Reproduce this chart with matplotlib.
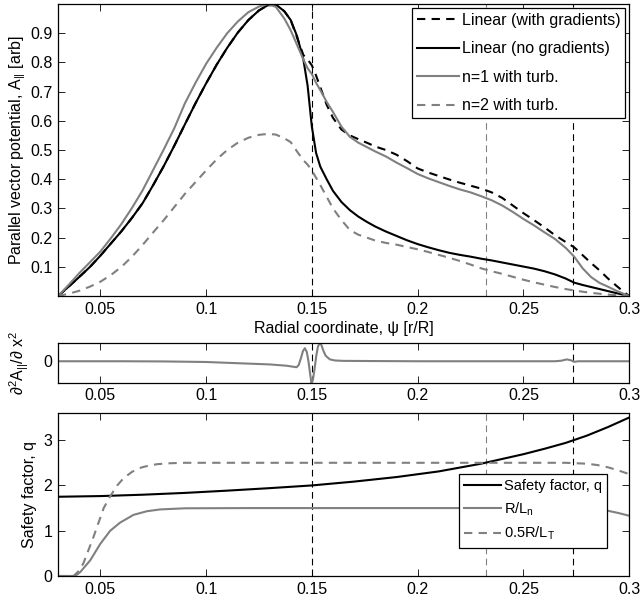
import matplotlib
matplotlib.use("Agg")
import matplotlib.pyplot as plt

plt.rcParams['font.family'] = ['Liberation Sans', 'DejaVu Sans']
plt.rcParams['font.size'] = 11.5
plt.rcParams['mathtext.fontset'] = 'custom'
plt.rcParams['mathtext.rm'] = 'Liberation Sans'
plt.rcParams['mathtext.it'] = 'Liberation Sans:italic'
plt.rcParams['mathtext.default'] = 'regular'

# ---------------- data ----------------
x_top = [0.030, 0.035, 0.040, 0.045, 0.050, 0.055, 0.060, 0.065, 0.070, 0.075,
         0.080, 0.085, 0.090, 0.095, 0.100, 0.105, 0.110, 0.115, 0.120, 0.125,
         0.129, 0.133, 0.137, 0.140, 0.143, 0.146, 0.148, 0.150, 0.152, 0.154,
         0.157, 0.160, 0.164, 0.168, 0.172, 0.176, 0.180, 0.185, 0.190, 0.195,
         0.200, 0.205, 0.210, 0.215, 0.220, 0.225, 0.230, 0.235, 0.240, 0.245,
         0.250, 0.255, 0.260, 0.265, 0.270, 0.274, 0.278, 0.282, 0.286, 0.290,
         0.294, 0.297, 0.300]

lin_grad = [0.000, 0.032, 0.065, 0.099, 0.138, 0.180, 0.222, 0.268, 0.318, 0.380,
            0.445, 0.515, 0.588, 0.660, 0.728, 0.792, 0.850, 0.902, 0.945, 0.978,
            0.995, 0.998, 0.975, 0.945, 0.885, 0.825, 0.810, 0.790, 0.755, 0.715,
            0.655, 0.610, 0.570, 0.550, 0.537, 0.525, 0.512, 0.500, 0.484, 0.462,
            0.437, 0.423, 0.411, 0.399, 0.388, 0.378, 0.368, 0.355, 0.336, 0.310,
            0.284, 0.260, 0.235, 0.208, 0.185, 0.167, 0.140, 0.113, 0.088, 0.060,
            0.035, 0.017, 0.000]

lin_nograd = [0.000, 0.032, 0.065, 0.099, 0.138, 0.180, 0.222, 0.268, 0.318, 0.380,
              0.445, 0.515, 0.588, 0.660, 0.728, 0.792, 0.850, 0.902, 0.945, 0.978,
              0.995, 0.998, 0.975, 0.945, 0.890, 0.810, 0.720, 0.580, 0.490, 0.443,
              0.400, 0.360, 0.322, 0.294, 0.272, 0.254, 0.238, 0.221, 0.206, 0.191,
              0.178, 0.167, 0.157, 0.148, 0.141, 0.135, 0.128, 0.122, 0.115, 0.108,
              0.101, 0.094, 0.085, 0.074, 0.060, 0.046, 0.038, 0.031, 0.024, 0.017,
              0.010, 0.005, 0.000]

n1_turb = [0.000, 0.038, 0.078, 0.115, 0.152, 0.198, 0.247, 0.302, 0.362, 0.432,
           0.502, 0.575, 0.660, 0.730, 0.795, 0.850, 0.900, 0.940, 0.972, 0.991,
           1.000, 0.990, 0.950, 0.910, 0.860, 0.810, 0.780, 0.760, 0.730, 0.705,
           0.665, 0.630, 0.580, 0.545, 0.525, 0.510, 0.495, 0.478, 0.457, 0.438,
           0.418, 0.403, 0.390, 0.377, 0.365, 0.355, 0.342, 0.328, 0.310, 0.288,
           0.264, 0.242, 0.218, 0.195, 0.165, 0.135, 0.095, 0.065, 0.045, 0.032,
           0.018, 0.009, 0.000]

n2_turb = [0.000, 0.008, 0.018, 0.032, 0.049, 0.072, 0.100, 0.135, 0.175, 0.218,
           0.260, 0.305, 0.350, 0.390, 0.430, 0.468, 0.500, 0.525, 0.542, 0.552,
           0.555, 0.553, 0.540, 0.527, 0.495, 0.465, 0.450, 0.430, 0.405, 0.380,
           0.340, 0.300, 0.260, 0.226, 0.210, 0.200, 0.190, 0.182, 0.176, 0.168,
           0.160, 0.151, 0.141, 0.131, 0.120, 0.108, 0.095, 0.085, 0.076, 0.066,
           0.056, 0.047, 0.039, 0.031, 0.024, 0.019, 0.015, 0.011, 0.008, 0.005,
           0.003, 0.001, 0.000]

x_d2 = [0.030, 0.060, 0.080, 0.100, 0.116, 0.130, 0.138, 0.1415, 0.1428, 0.1438,
        0.1448, 0.1458, 0.1467, 0.1476, 0.1484, 0.1491, 0.1498, 0.1505, 0.1513,
        0.1521, 0.1529, 0.1538, 0.1546, 0.1555, 0.1565, 0.1585, 0.161, 0.165,
        0.180, 0.200, 0.265, 0.268, 0.2705, 0.2725, 0.274, 0.276, 0.300]
d2A = [0.00, 0.00, -0.01, -0.04, -0.11, -0.17, -0.24, -0.30, -0.32, -0.20,
       0.15, 0.55, 0.70, 0.50, 0.00, -0.60, -1.18, -1.00, -0.40,
       0.30, 0.80, 0.97, 0.85, 0.55, 0.30, 0.10, 0.04, 0.02,
       0.01, 0.00, 0.00, 0.03, 0.10, 0.05, -0.03, 0.00, 0.00]

x_q = [0.03, 0.05, 0.07, 0.09, 0.11, 0.13, 0.15, 0.17, 0.19, 0.21, 0.23, 0.25,
       0.26, 0.27, 0.28, 0.29, 0.30]
q = [1.75, 1.765, 1.795, 1.835, 1.885, 1.94, 2.00, 2.085, 2.185, 2.31, 2.48,
     2.69, 2.81, 2.94, 3.10, 3.29, 3.50]

x_rln = [0.030, 0.0374, 0.039, 0.0406, 0.0453, 0.050, 0.0547, 0.0594, 0.0657,
         0.072, 0.0783, 0.090, 0.120, 0.200, 0.270, 0.280, 0.285, 0.290, 0.295,
         0.300]
rln = [0.00, 0.00, 0.03, 0.09, 0.35, 0.71, 1.00, 1.18, 1.35, 1.43, 1.47, 1.495,
       1.50, 1.50, 1.50, 1.49, 1.47, 1.44, 1.39, 1.33]

x_rlt = [0.030, 0.0374, 0.040, 0.042, 0.0467, 0.0516, 0.0548, 0.058, 0.061,
         0.065, 0.069, 0.073, 0.077, 0.083, 0.090, 0.120, 0.200, 0.270, 0.280,
         0.285, 0.290, 0.295, 0.300]
rlt = [0.00, 0.00, 0.12, 0.28, 0.85, 1.50, 1.77, 2.00, 2.16, 2.30, 2.39, 2.44,
       2.47, 2.49, 2.50, 2.50, 2.50, 2.50, 2.48, 2.45, 2.40, 2.33, 2.25]

vline_black = [0.15, 0.2736]
vline_gray = [0.2325]

x_ticks = [0.05, 0.1, 0.15, 0.2, 0.25, 0.3]
x_ticklabels = ['0.05', '0.1', '0.15', '0.2', '0.25', '0.3']
top_yticks = [0.1, 0.2, 0.3, 0.4, 0.5, 0.6, 0.7, 0.8, 0.9]
bot_yticks = [0, 1, 2, 3]

# ---------------- figure ----------------
GRAY = '#808080'
fig = plt.figure(figsize=(6.4, 6.03), dpi=100)
L, W = 0.0906, 0.8925
ax1 = fig.add_axes([L, 0.509, W, 0.4844])
ax2 = fig.add_axes([L, 0.3654, W, 0.0664])
ax3 = fig.add_axes([L, 0.0448, W, 0.2703])

def style(ax):
    ax.set_xlim(0.03, 0.3)
    ax.set_xticks(x_ticks)
    ax.set_xticklabels(x_ticklabels)
    ax.tick_params(direction='in', length=5, width=0.6, top=True, right=True,
                   labelsize=11.5, pad=4)
    for s in ax.spines.values():
        s.set_linewidth(0.9)

def vlines(ax, gray=True):
    for xv in vline_black:
        ax.axvline(xv, color='black', lw=0.8, dashes=(6, 4), zorder=1)
    if gray:
        for xv in vline_gray:
            ax.axvline(xv, color=GRAY, lw=0.8, dashes=(6, 4), zorder=1)

# top panel
style(ax1)
vlines(ax1)
h1, = ax1.plot(x_top, lin_grad, color='black', lw=1.5, dashes=(4, 3), label='Linear (with gradients)')
h2, = ax1.plot(x_top, lin_nograd, color='black', lw=1.5, label='Linear (no gradients)')
h3, = ax1.plot(x_top, n1_turb, color=GRAY, lw=1.5, label='n=1 with turb.')
h4, = ax1.plot(x_top, n2_turb, color=GRAY, lw=1.5, dashes=(4, 3), label='n=2 with turb.')
ax1.set_ylim(0, 1.0)
ax1.set_yticks(top_yticks)
ax1.set_yticklabels([f'{v:g}' for v in top_yticks])
ax1.set_xlabel('Radial coordinate, ψ [r/R]', fontsize=11.5, labelpad=3)
ax1.set_ylabel('Parallel vector potential, A$_{||}$ [arb]', fontsize=11.5)
ax1.yaxis.set_label_coords(-0.052, 0.5)
leg1 = ax1.legend(handles=[h1, h2, h3, h4], loc='upper right', fontsize=11.5,
                  frameon=True, fancybox=False, edgecolor='black', framealpha=1,
                  handlelength=2.6, handletextpad=0.2, labelspacing=0.85,
                  borderaxespad=0.25, borderpad=0.3)
leg1.get_frame().set_linewidth(0.9)

# middle panel
style(ax2)
vlines(ax2, gray=False)
ax2.plot(x_d2, d2A, color=GRAY, lw=1.5)
ax2.set_ylim(-1.15, 1.0)
ax2.set_yticks([0])
ax2.set_yticklabels(['0'])
ax2.set_ylabel('∂$^2$A$_{||}$/∂ x$^2$', fontsize=11.5)
ax2.yaxis.set_label_coords(-0.047, 0.5)

# bottom panel
style(ax3)
vlines(ax3)
g1, = ax3.plot(x_q, q, color='black', lw=1.5, label='Safety factor, q')
g2, = ax3.plot(x_rln, rln, color=GRAY, lw=1.5, label='R/L$_n$')
g3, = ax3.plot(x_rlt, rlt, color=GRAY, lw=1.5, dashes=(4, 3), label='0.5R/L$_T$')
ax3.set_ylim(0, 3.6)
ax3.set_yticks(bot_yticks)
ax3.set_yticklabels([str(v) for v in bot_yticks])
ax3.set_ylabel('Safety factor, q', fontsize=11.5)
ax3.yaxis.set_label_coords(-0.037, 0.5)
leg3 = ax3.legend(handles=[g1, g2, g3], loc='upper left',
                  bbox_to_anchor=(0.702, 0.626), fontsize=10.5,
                  frameon=True, fancybox=False, edgecolor='black', framealpha=1,
                  handlelength=2.5, handletextpad=0.25, labelspacing=0.5,
                  borderaxespad=0.0, borderpad=0.35)
leg3.get_frame().set_linewidth(0.9)

fig.savefig('out.png', dpi=100)
